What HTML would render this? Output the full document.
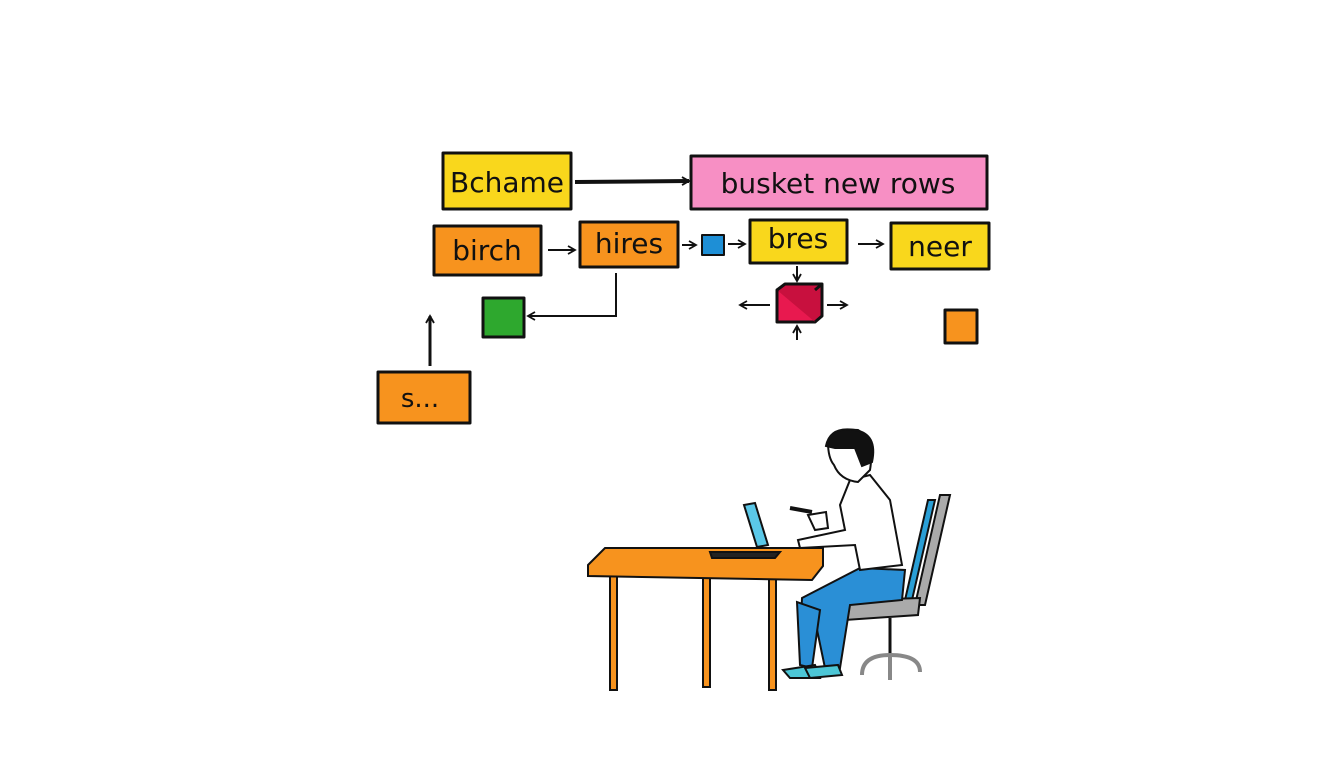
<!DOCTYPE html>
<html><head><meta charset="utf-8"><style>
html,body{margin:0;padding:0;background:#fff;}
svg{display:block}
text{font-family:"DejaVu Sans","Liberation Sans",sans-serif;fill:#111;}
</style></head><body>
<svg width="1344" height="768" viewBox="0 0 1344 768" xmlns="http://www.w3.org/2000/svg">
<defs>
<marker id="a" markerWidth="10" markerHeight="10" refX="8" refY="5" orient="auto" markerUnits="userSpaceOnUse"><path d="M1,1 L8,5 L1,9" fill="none" stroke="#111" stroke-width="1.8"/></marker>
</defs>
<g stroke="#111" stroke-width="3" stroke-linejoin="round">
<rect x="443" y="153" width="128" height="56" fill="#f9d71c"/>
<rect x="691" y="156" width="296" height="53" fill="#f78fc4"/>
<rect x="434" y="226" width="107" height="49" fill="#f7931e"/>
<rect x="580" y="222" width="98" height="45" fill="#f7931e"/>
<rect x="702" y="235" width="22" height="20" fill="#1e8fd6" stroke-width="2"/>
<rect x="750" y="220" width="97" height="43" fill="#f9d71c"/>
<rect x="891" y="223" width="98" height="46" fill="#f9d71c"/>
<rect x="777" y="290" width="38" height="32" fill="#e8194f"/>
<path d="M777,290 L785,284 L822,284 L822,316 L815,322 M815,290 L822,284" fill="#c8103e"/>
<rect x="483" y="298" width="41" height="39" fill="#2ea82e"/>
<rect x="945" y="310" width="32" height="33" fill="#f7931e"/>
<rect x="378" y="372" width="92" height="51" fill="#f7931e"/>
</g>
<g font-size="28">
<text x="507" y="192" text-anchor="middle">Bchame</text>
<text x="838" y="193" text-anchor="middle">busket new rows</text>
<text x="487" y="260" text-anchor="middle">birch</text>
<text x="629" y="253" text-anchor="middle">hires</text>
<text x="798" y="248" text-anchor="middle">bres</text>
<text x="940" y="256" text-anchor="middle">neer</text>
<text x="420" y="407" text-anchor="middle" font-size="26">s...</text>
</g>
<g stroke="#111" stroke-width="2" fill="none">
<line x1="575" y1="182" x2="689" y2="181" stroke-width="4" marker-end="url(#a)"/>
<line x1="548" y1="250" x2="575" y2="250" marker-end="url(#a)"/>
<line x1="682" y1="245" x2="696" y2="245" marker-end="url(#a)"/>
<line x1="728" y1="244" x2="745" y2="244" marker-end="url(#a)"/>
<line x1="858" y1="244" x2="883" y2="244" marker-end="url(#a)"/>
<line x1="797" y1="266" x2="797" y2="281" marker-end="url(#a)"/>
<line x1="770" y1="305" x2="740" y2="305" marker-end="url(#a)"/>
<line x1="827" y1="305" x2="847" y2="305" marker-end="url(#a)"/>
<line x1="797" y1="340" x2="797" y2="326" marker-end="url(#a)"/>
<path d="M616,273 L616,316 L528,316" marker-end="url(#a)"/>
<line x1="430" y1="366" x2="430" y2="316" stroke-width="3" marker-end="url(#a)"/>
</g>
<!-- chair -->
<g stroke="#111" stroke-width="2">
<path d="M940,495 L950,495 L925,605 L915,605 Z" fill="#aaa"/>
<path d="M935,500 L928,500 L905,600 L912,600Z" fill="#2a9fd6"/>
<path d="M838,612 Q840,600 860,600 L920,598 L918,615 L845,620Z" fill="#aaa"/>
<line x1="890" y1="618" x2="890" y2="655" stroke-width="3"/>
<path d="M862,675 Q862,655 890,655 Q920,655 920,672" fill="none" stroke="#888" stroke-width="4"/>
<line x1="890" y1="655" x2="890" y2="680" stroke="#888" stroke-width="4"/>
</g>
<!-- table -->
<g stroke="#111" stroke-width="2">
<rect x="610" y="575" width="7" height="115" fill="#f7931e"/>
<rect x="703" y="575" width="7" height="112" fill="#f7931e"/>
<rect x="769" y="575" width="7" height="115" fill="#f7931e"/>
<path d="M588,565 L605,548 L823,548 L823,566 L812,580 L588,576 Z" fill="#f7931e"/>
<path d="M710,552 L780,552 L775,558 L712,558Z" fill="#222"/>
<path d="M744,505 L755,503 L768,545 L757,547Z" fill="#5bc8e8"/>
</g>
<!-- person -->
<g stroke="#111" stroke-width="2">
<path d="M802,598 L860,568 L905,570 L902,600 L850,605 L840,668 L825,668 L815,620 L800,640Z" fill="#2a8fd6"/>
<path d="M797,602 L800,665 L812,668 L820,610Z" fill="#2a8fd6"/>
<path d="M783,670 L815,665 L820,678 L790,678Z" fill="#4cc6d6"/>
<path d="M805,668 L838,665 L842,675 L810,678Z" fill="#4cc6d6"/>
<path d="M850,480 L870,475 L890,500 L902,565 L860,570 L855,545 L800,548 L798,540 L845,530 L840,505Z" fill="#fff"/>
<path d="M828,442 Q835,428 858,430 Q875,440 870,470 L858,482 Q840,480 834,465 Q828,458 828,442Z" fill="#fff"/>
<path d="M826,446 Q830,426 855,430 Q878,434 872,462 L862,466 L855,448 L835,448Z" fill="#111"/>
<path d="M808,515 L826,512 L828,528 L815,530Z" fill="#fff"/>
<line x1="790" y1="508" x2="812" y2="512" stroke-width="4"/>
</g>
</svg>
</body></html>
